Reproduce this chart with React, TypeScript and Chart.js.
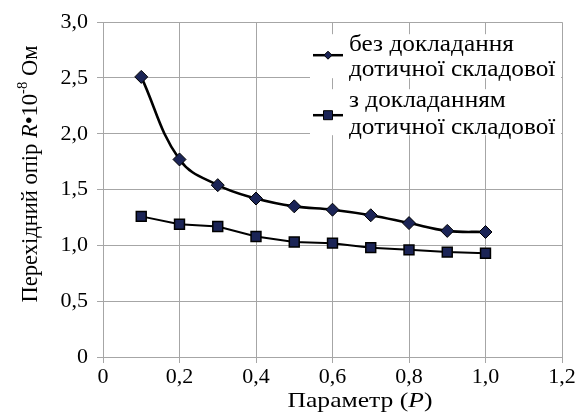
import React, { useEffect, useRef } from "react";
import { Chart, registerables } from "chart.js";

Chart.register(...registerables);

const xValues = [0.1, 0.2, 0.3, 0.4, 0.5, 0.6, 0.7, 0.8, 0.9, 1.0];
const withoutTangential = [2.51, 1.77, 1.54, 1.42, 1.35, 1.32, 1.27, 1.2, 1.13, 1.12];
const withTangential = [1.26, 1.19, 1.17, 1.08, 1.03, 1.02, 0.98, 0.96, 0.94, 0.93];
const xTickLabels = ["0", "0,2", "0,4", "0,6", "0,8", "1,0", "1,2"];
const yTickLabels = ["0", "0,5", "1,0", "1,5", "2,0", "2,5", "3,0"];
const legendLabels = [
  ["без докладання", "дотичної складової"],
  ["з докладанням", "дотичної складової"],
];
const xTitle = [
  { t: "Параметр (", i: false, s: false },
  { t: "P", i: true, s: false },
  { t: ")", i: false, s: false },
];
const yTitle = [
  { t: "Перехідний опір ", i: false, s: false },
  { t: "R", i: true, s: false },
  { t: "•10", i: false, s: false },
  { t: "-8", i: false, s: true },
  { t: " Ом", i: false, s: false },
];

const SERIF = '"Liberation Serif"';
const MARKER_FILL = "#1b2456";

function richFont(seg: any, size: number) {
  const sz = seg.s ? Math.round(size * 0.65) : size;
  return `${seg.i ? "italic " : ""}${sz}px ${SERIF}`;
}

function richWidth(ctx: CanvasRenderingContext2D, segs: any[], size: number) {
  let total = 0;
  for (const s of segs) {
    ctx.font = richFont(s, size);
    total += ctx.measureText(s.t).width;
  }
  return total;
}

// draws centred rich text, horizontally stretched to the given length
function drawRich(ctx: CanvasRenderingContext2D, segs: any[], size: number, cx: number, baseY: number, length: number) {
  const total = richWidth(ctx, segs, size);
  const k = length / total;
  ctx.save();
  ctx.translate(cx, baseY);
  ctx.scale(k, 1);
  let x = -total / 2;
  for (const s of segs) {
    ctx.font = richFont(s, size);
    ctx.fillText(s.t, x, s.s ? -size * 0.42 : 0);
    x += ctx.measureText(s.t).width;
  }
  ctx.restore();
}

const overlayPlugin = {
  id: "overlay",
  afterDraw(chart: any) {
    const ctx: CanvasRenderingContext2D = chart.ctx;
    const { right, top } = chart.chartArea;
    ctx.save();
    ctx.fillStyle = "#000";
    ctx.textAlign = "left";
    ctx.textBaseline = "alphabetic";

    // x axis title
    drawRich(ctx, xTitle, 22, 360, 407, 145);

    // y axis title (rotated)
    ctx.save();
    ctx.translate(37, 174);
    ctx.rotate(-Math.PI / 2);
    drawRich(ctx, yTitle, 23, 0, 0, 257);
    ctx.restore();

    // legend
    const textX = right - 213;
    const sampleX0 = right - 249;
    const sampleX1 = right - 219;
    const baselines = [
      [top + 29, top + 54],
      [top + 85, top + 112],
    ];
    const boxes = [
      [top + 12, top + 56],
      [top + 67, top + 113],
    ];
    const markerY = [top + 33, top + 93];
    legendLabels.forEach((lines, idx) => {
      ctx.fillStyle = "#fff";
      ctx.fillRect(sampleX0 - 3, boxes[idx][0], right - 1 - (sampleX0 - 3), boxes[idx][1] - boxes[idx][0]);
      lines.forEach((ln, k) => {
        const by = baselines[idx][k];
        ctx.save();
        ctx.translate(textX, by);
        ctx.scale(1.1, 1);
        ctx.fillStyle = "#000";
        ctx.font = `23px ${SERIF}`;
        ctx.fillText(ln, 0, 0);
        ctx.restore();
      });
      const my = markerY[idx];
      ctx.strokeStyle = "#000";
      ctx.lineWidth = 2.5;
      ctx.beginPath();
      ctx.moveTo(sampleX0, my);
      ctx.lineTo(sampleX1, my);
      ctx.stroke();
      ctx.fillStyle = MARKER_FILL;
      ctx.lineWidth = 1;
      const mx = (sampleX0 + sampleX1) / 2;
      ctx.beginPath();
      if (idx === 0) {
        const r = 4;
        ctx.moveTo(mx, my - r);
        ctx.lineTo(mx + r, my);
        ctx.lineTo(mx, my + r);
        ctx.lineTo(mx - r, my);
        ctx.closePath();
      } else {
        ctx.rect(mx - 4.5, my - 4.5, 9, 9);
      }
      ctx.fill();
      ctx.stroke();
    });
    ctx.restore();
  },
};

export default function App() {
  const ref = useRef<HTMLCanvasElement | null>(null);
  useEffect(() => {
    let chart: Chart | null = null;
    let cancelled = false;
    const build = () => {
      if (cancelled || !ref.current) return;
      chart = new Chart(ref.current, {
        type: "line",
        data: {
          datasets: [
            {
              label: legendLabels[0].join(" "),
              data: xValues.map((x, i) => ({ x, y: withoutTangential[i] })),
              borderColor: "#000",
              borderWidth: 2.6,
              backgroundColor: MARKER_FILL,
              pointStyle: "rectRot",
              pointRadius: 6.5,
              pointBorderColor: "#000",
              pointBorderWidth: 1,
              pointBackgroundColor: MARKER_FILL,
              tension: 0.4,
            },
            {
              label: legendLabels[1].join(" "),
              data: xValues.map((x, i) => ({ x, y: withTangential[i] })),
              borderColor: "#000",
              borderWidth: 2,
              backgroundColor: MARKER_FILL,
              pointStyle: "rect",
              pointRadius: 7,
              pointBorderColor: "#000",
              pointBorderWidth: 1.5,
              pointBackgroundColor: MARKER_FILL,
              tension: 0,
            },
          ],
        },
        options: {
          animation: false,
          responsive: true,
          maintainAspectRatio: false,
          layout: { padding: { left: 0, right: 20, top: 15, bottom: 0 } },
          plugins: { legend: { display: false }, tooltip: { enabled: false } },
          scales: {
            x: {
              type: "linear",
              min: 0,
              max: 1.2,
              afterFit: (s: any) => {
                s.height = 57;
              },
              ticks: {
                stepSize: 0.2,
                color: "#000",
                font: { family: SERIF, size: 22 },
                padding: 1,
                maxRotation: 0,
                callback: (_v: any, i: number) => xTickLabels[i],
              },
              grid: { color: "#a6a6a6", lineWidth: 1, tickLength: 6 },
              border: { color: "#a6a6a6" },
            },
            y: {
              min: 0,
              max: 3,
              afterFit: (s: any) => {
                s.width = 103;
              },
              ticks: {
                stepSize: 0.5,
                color: "#000",
                font: { family: SERIF, size: 22 },
                padding: 9,
                callback: (_v: any, i: number) => yTickLabels[i],
              },
              grid: { color: "#a6a6a6", lineWidth: 1, tickLength: 6 },
              border: { color: "#a6a6a6" },
            },
          },
        },
        plugins: [overlayPlugin],
      });
    };
    const fonts: any = (document as any).fonts;
    if (fonts && fonts.load) {
      Promise.all([
        fonts.load(`22px ${SERIF}`, "Параметр 0,2"),
        fonts.load(`italic 22px ${SERIF}`, "PR"),
      ])
        .catch(() => undefined)
        .then(build);
    } else {
      build();
    }
    return () => {
      cancelled = true;
      if (chart) chart.destroy();
    };
  }, []);
  return (
    <div style={{ position: "fixed", left: 0, top: 0, width: 582, height: 414, background: "#fff" }}>
      <span
        aria-hidden="true"
        style={{ position: "absolute", left: 0, top: 0, opacity: 0, fontFamily: "Liberation Serif", fontSize: 22 }}
      >
        Параметр <i>P</i>
      </span>
      <canvas ref={ref} />
    </div>
  );
}
